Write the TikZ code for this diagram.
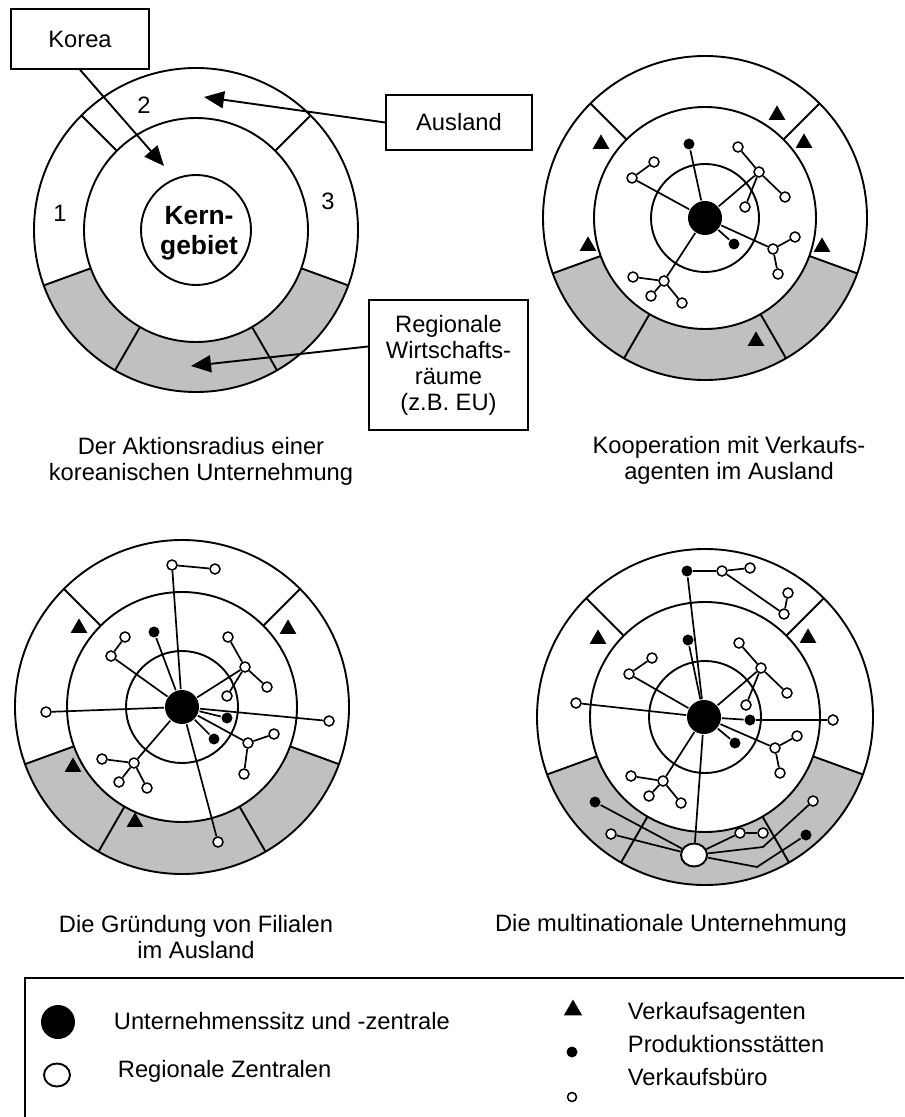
\documentclass[tikz,border=0pt]{standalone}
\usepackage{fontspec}
\setmainfont{Liberation Sans}
\usetikzlibrary{shapes.geometric, arrows.meta}
\definecolor{grau}{RGB}{192,192,192}
% Aktionsradius: drei Kreise, graues Band, Sektorgrenzen
\newcommand{\ringe}[5]{%
  \begin{scope}[shift={(#1,#2)}]
    \fill[grau] (20:#4) arc[start angle=20, end angle=160, radius=#4]
      -- (160:#3) arc[start angle=160, end angle=20, radius=#3] -- cycle;
    \draw (0,0) circle[radius=#3] (0,0) circle[radius=#4] (0,0) circle[radius=#5];
    \foreach \w in {-45,-135,160,120,60,20}
      \draw (\w:#4) -- (\w:#3);
  \end{scope}}

\begin{document}
\begin{tikzpicture}[
  x=0.5pt, y=-0.5pt,
  line width=0.95pt,
  font=\fontsize{11.85}{13}\selectfont,
  hq/.style={circle, fill=black, inner sep=0pt, minimum size=17pt},
  rz/.style={ellipse, draw, fill=white, inner sep=0pt, minimum width=13pt, minimum height=11.5pt},
  buero/.style={circle, draw, fill=white, inner sep=0pt, minimum size=5pt, line width=0.75pt},
  prod/.style={circle, fill=black, inner sep=0pt, minimum size=5.5pt},
  agent/.style={regular polygon, regular polygon sides=3, fill=black, inner sep=0pt, minimum size=9.6pt},
  kasten/.style={draw, rectangle, inner sep=0pt, align=center, line width=0.75pt},
  legtext/.style={anchor=base west, inner sep=0pt},
  pfeil/.style={-{Triangle[length=10pt, width=8.5pt]}},
  every edge/.style={draw, line width=0.85pt},
]
\useasboundingbox (0,0) rectangle (904,1117);

% Der Aktionsradius
\ringe{196}{230}{162}{112}{55}
\node[kasten, minimum width=69pt, minimum height=30pt] (korea) at (80,39) {Korea};
\node[kasten, minimum width=73pt, minimum height=27.5pt] (ausland) at (459,122.5) {Ausland};
\node[kasten, minimum width=79.5pt, minimum height=65pt] (region) at (448.5,365) {Regionale\\Wirtschafts-\\räume\\(z.B. EU)};
\node (n1) at (60,213) {1};
\node (n2) at (144,105) {2};
\node (n3) at (328,201) {3};
\node[font=\fontsize{13.2}{15}\selectfont\bfseries, align=center] (kern) at (199,233) {Kern-\\gebiet};
\coordinate (koreaZiel) at (164,166);
\coordinate (auslandZiel) at (204,97);
\coordinate (regionZiel) at (191,366);
\draw[pfeil] (korea.south) -- (koreaZiel);
\draw[pfeil] (ausland.west) -- (auslandZiel);
\draw[pfeil] (region.167) -- (regionZiel);
\node[align=center] (tA) at (201,461) {Der Aktionsradius einer\\koreanischen Unternehmung};

% Kooperation mit Verkaufsagenten
\ringe{705}{218}{162}{111}{54}
\node[hq] (b0) at (705,218) {};
\node[prod] (b1) at (689,144) {};
\node[buero] (b2) at (632,178) {};
\node[buero] (b3) at (654,162) {};
\node[buero] (b4) at (759,172) {};
\node[buero] (b5) at (738,147) {};
\node[buero] (b6) at (785,197) {};
\node[buero] (b7) at (745,207) {};
\node[prod] (b8) at (734,244) {};
\node[buero] (b9) at (773,249) {};
\node[buero] (b10) at (795,237) {};
\node[buero] (b11) at (778,274) {};
\node[buero] (b12) at (664,281) {};
\node[buero] (b13) at (633,277) {};
\node[buero] (b14) at (651,296) {};
\node[buero] (b15) at (682,303) {};
\path (b0) edge (b1) edge (b2) edge (b4) edge (b8) edge (b9) edge (b12)
      (b2) edge (b3)
      (b4) edge (b5) edge (b6) edge (b7)
      (b9) edge (b10) edge (b11)
      (b12) edge (b13) edge (b14) edge (b15);
\node[agent] (bA1) at (777,115) {};
\node[agent] (bA2) at (804,143) {};
\node[agent] (bA3) at (601,144) {};
\node[agent] (bA4) at (588,246) {};
\node[agent] (bA5) at (822,247) {};
\node[agent] (bA6) at (756,341) {};
\node[align=center] (tB) at (729,460) {Kooperation mit Verkaufs-\\agenten im Ausland};

% Filialen im Ausland
\ringe{182}{707}{167}{115}{56}
\node[hq] (c0) at (182,707) {};
\node[buero] (c1) at (172,565) {};
\node[buero] (c2) at (215,569) {};
\node[prod] (c3) at (154,632) {};
\node[buero] (c4) at (111,656) {};
\node[buero] (c5) at (125,637) {};
\node[buero] (c6) at (245,667) {};
\node[buero] (c7) at (228,637) {};
\node[buero] (c8) at (267,687) {};
\node[buero] (c9) at (227,696) {};
\node[buero] (c10) at (46,712) {};
\node[buero] (c11) at (329,721) {};
\node[prod] (c12) at (227,718) {};
\node[prod] (c13) at (214,739) {};
\node[buero] (c14) at (248,743) {};
\node[buero] (c15) at (274,734) {};
\node[buero] (c16) at (244,774) {};
\node[buero] (c17) at (134,763) {};
\node[buero] (c18) at (102,759) {};
\node[buero] (c19) at (119,782) {};
\node[buero] (c20) at (147,788) {};
\node[buero] (c21) at (218,842) {};
\path (c0) edge (c1) edge (c3) edge (c4) edge (c6) edge (c10) edge (c11)
           edge (c12) edge (c13) edge (c14) edge (c17) edge (c21)
      (c1) edge (c2)
      (c4) edge (c5)
      (c6) edge (c7) edge (c8) edge (c9)
      (c14) edge (c15) edge (c16)
      (c17) edge (c18) edge (c19) edge (c20);
\node[agent] (cA1) at (79,628) {};
\node[agent] (cA2) at (288,629) {};
\node[agent] (cA3) at (73,767) {};
\node[agent] (cA4) at (135,822) {};
\node[align=center] (tC) at (196,937) {Die Gründung von Filialen\\im Ausland};

% multinationale Unternehmung
\ringe{705}{717}{168}{115}{56}
\node[hq] (d0) at (704,717) {};
\node[prod] (d1) at (687,571) {};
\node[buero] (d2) at (722,571) {};
\node[buero] (d3) at (750,568) {};
\node[buero] (d4) at (784,614) {};
\node[buero] (d5) at (788,593) {};
\node[prod] (d6) at (688,640) {};
\node[buero] (d7) at (629,674) {};
\node[buero] (d8) at (652,658) {};
\node[buero] (d9) at (761,668) {};
\node[buero] (d10) at (739,643) {};
\node[buero] (d11) at (787,693) {};
\node[buero] (d12) at (746,705) {};
\node[buero] (d13) at (576,703) {};
\node[prod] (d14) at (750,720) {};
\node[buero] (d15) at (833,720) {};
\node[prod] (d16) at (735,743) {};
\node[buero] (d17) at (775,748) {};
\node[buero] (d18) at (797,736) {};
\node[buero] (d19) at (780,773) {};
\node[buero] (d20) at (663,781) {};
\node[buero] (d21) at (631,776) {};
\node[buero] (d22) at (649,796) {};
\node[buero] (d23) at (681,803) {};
\node[rz] (drz) at (694,855) {};
\node[prod] (d24) at (595,802) {};
\node[buero] (d25) at (611,834) {};
\node[buero] (d26) at (740,833) {};
\node[buero] (d27) at (763,833) {};
\node[buero] (d28) at (813,801) {};
\node[prod] (d29) at (806,835) {};
\coordinate (dk1) at (763,847);
\coordinate (dk2) at (757,867);
\path (d0) edge (d1) edge (d6) edge (d7) edge (d9) edge (d13) edge (d14)
           edge (d16) edge (d17) edge (d20) edge (drz)
      (d1) edge (d2)
      (d2) edge (d3) edge (d4)
      (d4) edge (d5)
      (d7) edge (d8)
      (d9) edge (d10) edge (d11) edge (d12)
      (d14) edge (d15)
      (d17) edge (d18) edge (d19)
      (d20) edge (d21) edge (d22) edge (d23)
      (drz) edge (d24) edge (d25) edge (d26)
      (d26) edge (d27);
\draw[line width=0.85pt] (drz) -- (dk1) -- (d28);
\draw[line width=0.85pt] (drz) -- (dk2) -- (d29);
\node[agent] (dA1) at (598,639) {};
\node[agent] (dA2) at (808,638) {};
\node (tD) at (671,925) {Die multinationale Unternehmung};

% Legende
\draw (904,978) -- (25,978) -- (25,1117);
\node[hq] (lHQ) at (58,1022) {};
\node[legtext] (lt1) at (113,1029) {Unternehmenssitz und -zentrale};
\node[rz] (lRZ) at (57,1075) {};
\node[legtext] (lt2) at (117,1077) {Regionale Zentralen};
\node[agent, minimum size=10.5pt] (lAg) at (573,1010) {};
\node[legtext] (lt3) at (627,1019) {Verkaufsagenten};
\node[prod] (lPr) at (572,1052) {};
\node[legtext] (lt4) at (627,1052) {Produktionsstätten};
\node[legtext] (lt5) at (627,1085) {Verkaufsbüro};
\node[buero, minimum size=4.5pt] (lBu) at (572,1097) {};
\end{tikzpicture}
\end{document}
